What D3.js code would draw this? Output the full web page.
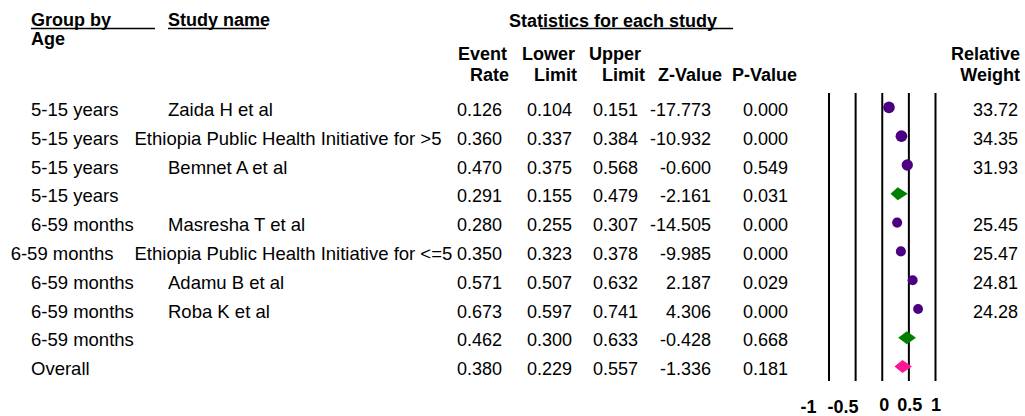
<!DOCTYPE html>
<html><head><meta charset="utf-8">
<script src="https://cdn.jsdelivr.net/npm/d3@7"></script>
<style>
html,body{margin:0;padding:0;background:#fff;}
svg{display:block;font-family:"Liberation Sans",Arial,sans-serif;}
</style></head>
<body><svg id="chart" width="1025" height="416"></svg>
<script>
// ---- data ----
const groups = ["5-15 years","5-15 years","5-15 years","5-15 years","6-59 months","6-59 months","6-59 months","6-59 months","6-59 months","Overall"];
const studies = ["Zaida H et al","Ethiopia Public Health Initiative for >5","Bemnet A et al","","Masresha T et al","Ethiopia Public Health Initiative for <=5","Adamu B et al","Roba K et al","",""];
const rowTypes = ["study","study","study","subgroup","study","study","study","study","subgroup","overall"];
const eventRate = [0.126,0.360,0.470,0.291,0.280,0.350,0.571,0.673,0.462,0.380];
const lowerLimit = [0.104,0.337,0.375,0.155,0.255,0.323,0.507,0.597,0.300,0.229];
const upperLimit = [0.151,0.384,0.568,0.479,0.307,0.378,0.632,0.741,0.633,0.557];
const zValue = [-17.773,-10.932,-0.600,-2.161,-14.505,-9.985,2.187,4.306,-0.428,-1.336];
const pValue = [0.000,0.000,0.549,0.031,0.000,0.000,0.029,0.000,0.668,0.181];
const relWeight = [33.72,34.35,31.93,null,25.45,25.47,24.81,24.28,null,null];
const axisTicks = [-1,-0.5,0,0.5,1];

// ---- style constants ----
const FONT = 18;
const LABEL_FONT = 18.5;
const colors = {study:"#4b0082", subgroup:"#008000", overall:"#ff1493"};
const tickNudge = {"-1":[-21,2], "-0.5":[-13,2], "0":[1.5,0], "0.5":[0.5,0], "1":[0,0]};

const svg = d3.select("#chart");
const n = groups.length;
const y = d3.scaleBand().domain(d3.range(n)).range([93, 381]);
const cy = i => y(i) + y.bandwidth()/2;
const x = d3.scaleLinear().domain([-1, 1]).range([829, 935.5]);
const rScale = d3.scaleSqrt().domain([0, 36]).range([0, 6]);

// ---- headers ----
const hdr = svg.append("g").attr("font-weight","bold").attr("font-size",FONT).attr("fill","#000");
hdr.append("text").attr("x",31).attr("y",26).text("Group by");
hdr.append("text").attr("x",31).attr("y",45).text("Age");
hdr.append("text").attr("x",168).attr("y",26).text("Study name");
hdr.append("text").attr("x",509).attr("y",27).text("Statistics for each study");
const underlines = [[31,155],[168,266],[540,733]];
svg.append("g").selectAll("line").data(underlines).join("line")
  .attr("x1",d=>d[0]).attr("x2",d=>d[1]).attr("y1",28.5).attr("y2",28.5)
  .attr("stroke","#000").attr("stroke-width",1.5);
const colHeads = [
  ["Event",507,60],["Rate",509,81],
  ["Lower",575,60],["Limit",577,81],
  ["Upper",641,60],["Limit",645,81],
  ["Z-Value",722,81],["P-Value",797,81],
  ["Relative",1020,60],["Weight",1020,81]
];
hdr.selectAll("text.ch").data(colHeads).join("text").attr("class","ch")
  .attr("x",d=>d[1]).attr("y",d=>d[2]).attr("text-anchor","end").text(d=>d[0]);

// ---- rows: left labels ----
const body = svg.append("g").attr("font-size",FONT).attr("fill","#000");
const labels = svg.append("g").attr("font-size",LABEL_FONT).attr("fill","#000");
const base = i => cy(i) + 8.6;
for (let i = 0; i < n; i++) {
  const st = labels.append("text").attr("x",168).attr("y",base(i)).text(studies[i]);
  const sw = st.node().getComputedTextLength();
  let sx = 168;
  if (168 + sw > 450) { sx = 134.5; st.attr("x", sx); }
  const gt = labels.append("text").attr("x",31).attr("y",base(i)).text(groups[i]);
  const gw = gt.node().getComputedTextLength();
  if (studies[i] && 31 + gw > sx - 5) gt.attr("x", sx - 21 - gw);
}

// ---- numeric columns ----
const numCols = [
  [eventRate, 502, v=>v.toFixed(3)],
  [lowerLimit, 572, v=>v.toFixed(3)],
  [upperLimit, 638, v=>v.toFixed(3)],
  [zValue, 711, v=>v.toFixed(3)],
  [pValue, 788, v=>v.toFixed(3)],
  [relWeight, 1018, v=>v==null?"":v.toFixed(2)]
];
numCols.forEach(([arr, xe, f]) => {
  body.append("g").selectAll("text").data(arr).join("text")
    .attr("x",xe).attr("y",(d,i)=>base(i)).attr("text-anchor","end").text(f);
});

// ---- forest plot ----
svg.append("g").selectAll("line").data(axisTicks).join("line")
  .attr("x1",d=>x(d)).attr("x2",d=>x(d))
  .attr("y1",y.range()[0]).attr("y2",y.range()[1])
  .attr("stroke","#000").attr("stroke-width",2);

const axis = svg.append("g").attr("transform","translate(0,398)")
  .call(d3.axisBottom(x).tickValues(axisTicks).tickSize(0).tickFormat(d=>String(d)));
axis.select(".domain").remove();
axis.selectAll("text")
  .attr("font-family","\"Liberation Sans\",Arial,sans-serif")
  .attr("font-size",FONT).attr("font-weight","bold").attr("fill","#000")
  .attr("dy","0.71em").attr("y",0)
  .attr("transform",d=>{const t=tickNudge[String(d)]||[0,0];return `translate(${t[0]},${t[1]})`;});

const idx = d3.range(n);
svg.append("g").selectAll("circle").data(idx.filter(i=>rowTypes[i]==="study")).join("circle")
  .attr("cx",i=>x(eventRate[i])).attr("cy",i=>cy(i)).attr("r",i=>rScale(relWeight[i]))
  .attr("fill",colors.study);
svg.append("g").selectAll("path").data(idx.filter(i=>rowTypes[i]!=="study")).join("path")
  .attr("d",i=>{const c=cy(i),h=6.5;return `M${x(lowerLimit[i])},${c}L${x(eventRate[i])},${c-h}L${x(upperLimit[i])},${c}L${x(eventRate[i])},${c+h}Z`;})
  .attr("fill",i=>colors[rowTypes[i]]);
</script></body></html>
